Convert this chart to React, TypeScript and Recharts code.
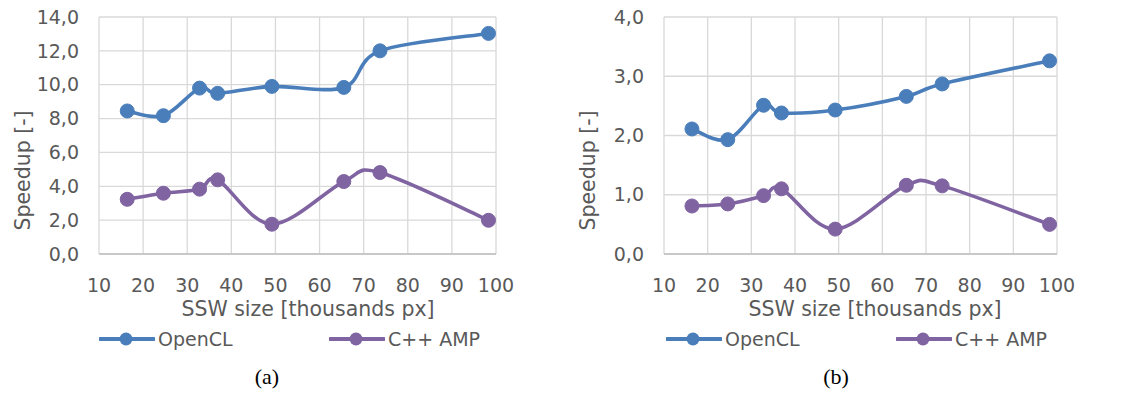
import React from 'react';
import { LineChart, Line, XAxis, YAxis, CartesianGrid, Legend } from 'recharts';

const sswSize = [16.4, 24.6, 32.8, 36.9, 49.2, 65.5, 73.7, 98.3];
const openclA = [8.45, 8.17, 9.8, 9.49, 9.9, 9.84, 12.0, 13.03];
const cppampA = [3.23, 3.59, 3.83, 4.38, 1.76, 4.28, 4.81, 1.99];
const openclB = [2.11, 1.93, 2.51, 2.38, 2.43, 2.66, 2.87, 3.26];
const cppampB = [0.81, 0.845, 0.985, 1.1, 0.42, 1.16, 1.15, 0.5];
const xTicks = [10, 20, 30, 40, 50, 60, 70, 80, 90, 100];
const yTicksA = [0, 2, 4, 6, 8, 10, 12, 14];
const yTicksB = [0, 1, 2, 3, 4];
const seriesNames = ['OpenCL', 'C++ AMP'];
const captions = ['(a)', '(b)'];

const BLUE = '#4a7ebb';
const PURPLE = '#8064a2';
const TEXT = '#595959';
const GRID = '#d9d9d9';
const FONT = '"DejaVu Sans", sans-serif';
const LEGEND_H = 26;

// Excel-like smoothing (Catmull-Rom / cardinal with tension 0)
function excelCurve(context: any) {
  let pts: [number, number][] = [];
  return {
    areaStart() {},
    areaEnd() {},
    lineStart() {
      pts = [];
    },
    lineEnd() {
      const n = pts.length;
      if (n === 0) return;
      context.moveTo(pts[0][0], pts[0][1]);
      for (let i = 0; i < n - 1; i++) {
        const p0 = pts[Math.max(0, i - 1)];
        const p1 = pts[i];
        const p2 = pts[i + 1];
        const p3 = pts[Math.min(n - 1, i + 2)];
        const c1x = p1[0] + (p2[0] - p0[0]) / 6;
        const c1y = p1[1] + (p2[1] - p0[1]) / 6;
        const c2x = p2[0] - (p3[0] - p1[0]) / 6;
        const c2y = p2[1] - (p3[1] - p1[1]) / 6;
        context.bezierCurveTo(c1x, c1y, c2x, c2y, p2[0], p2[1]);
      }
    },
    point(x: number, y: number) {
      pts.push([+x, +y]);
    },
  };
}

const fmt = (v: number) => v.toFixed(1).replace('.', ',');

type PanelProps = {
  left: number;
  width: number;
  yAxisWidth: number;
  marginRight: number;
  opencl: number[];
  cppamp: number[];
  yTicks: number[];
  yMax: number;
  xTitleCenter: number;
  legendX: number[];
  caption: string;
  captionX: number;
};

function Panel(p: PanelProps) {
  const data = sswSize.map((x, i) => ({ x, opencl: p.opencl[i], cppamp: p.cppamp[i] }));
  const colors = [BLUE, PURPLE];
  return (
    <div style={{ position: 'absolute', left: p.left, top: 0, width: p.width, height: 397 }}>
      <LineChart
        width={p.width}
        height={360}
        data={data}
        margin={{ top: 17, right: p.marginRight, bottom: 60 - LEGEND_H, left: 0 }}
      >
        <CartesianGrid stroke={GRID} strokeWidth={1.3} />
        <XAxis
          type="number"
          dataKey="x"
          domain={[10, 100]}
          ticks={xTicks}
          interval={0}
          height={46}
          tickSize={0}
          tickMargin={25}
          axisLine={{ stroke: '#bfbfbf', strokeWidth: 1.3 }}
          tickLine={false}
          tick={{ fill: TEXT, fontSize: 19, fontFamily: FONT }}
          label={{
            content: (lp: any) => {
              const vb = lp.viewBox;
              return (
                <text
                  x={p.xTitleCenter}
                  y={vb.y + 62}
                  textAnchor="middle"
                  fill={TEXT}
                  fontSize={20.5}
                  fontFamily={FONT}
                >
                  SSW size [thousands px]
                </text>
              );
            },
          }}
        />
        <YAxis
          type="number"
          domain={[0, p.yMax]}
          ticks={p.yTicks}
          interval={0}
          width={p.yAxisWidth}
          tickSize={0}
          tickMargin={20}
          axisLine={false}
          tickLine={false}
          tickFormatter={fmt}
          tick={{ fill: TEXT, fontSize: 19, fontFamily: FONT }}
          label={{
            content: (lp: any) => {
              const vb = lp.viewBox;
              const cx = p.yAxisWidth - 76;
              const cy = vb.y + vb.height / 2 + 35;
              return (
                <text
                  x={cx}
                  y={cy}
                  transform={`rotate(-90 ${cx} ${cy})`}
                  textAnchor="middle"
                  dominantBaseline="central"
                  fill={TEXT}
                  fontSize={20.5}
                  fontFamily={FONT}
                >
                  Speedup [-]
                </text>
              );
            },
          }}
        />
        <Legend
          verticalAlign="bottom"
          wrapperStyle={{ position: 'absolute', left: 0, top: 326, width: p.width, height: LEGEND_H }}
          content={(lp: any) => {
            const items = seriesNames.map((name) => (lp.payload || []).find((it: any) => it.value === name)).filter(Boolean);
            return (
              <div style={{ position: 'relative', width: p.width, height: LEGEND_H }}>
                {items.map((item: any, i: number) => (
                  <div
                    key={item.value}
                    style={{
                      position: 'absolute',
                      left: p.legendX[i],
                      top: 0,
                      height: LEGEND_H,
                      display: 'flex',
                      alignItems: 'center',
                      fontFamily: FONT,
                      fontSize: 19,
                      color: TEXT,
                      whiteSpace: 'nowrap',
                    }}
                  >
                    <svg width={56} height={26} style={{ marginRight: 3 }}>
                      <line x1={1} y1={13} x2={55} y2={13} stroke={item.color} strokeWidth={3.8} strokeLinecap="round" />
                      <circle cx={27} cy={13} r={6.5} fill={item.color} />
                    </svg>
                    <span>{item.value}</span>
                  </div>
                ))}
              </div>
            );
          }}
        />
        <Line
          name={seriesNames[0]}
          dataKey="opencl"
          type={excelCurve as any}
          stroke={colors[0]}
          strokeWidth={3.6}
          dot={{ r: 7, fill: colors[0], stroke: colors[0], strokeWidth: 1 }}
          activeDot={false}
          isAnimationActive={false}
        />
        <Line
          name={seriesNames[1]}
          dataKey="cppamp"
          type={excelCurve as any}
          stroke={colors[1]}
          strokeWidth={3.6}
          dot={{ r: 7, fill: colors[1], stroke: colors[1], strokeWidth: 1 }}
          activeDot={false}
          isAnimationActive={false}
        />
      </LineChart>
      <div
        style={{
          position: 'absolute',
          left: p.captionX - 40,
          width: 80,
          top: 364,
          textAlign: 'center',
          fontFamily: '"Liberation Serif", "Times New Roman", serif',
          fontSize: 22,
          color: '#000',
        }}
      >
        {p.caption}
      </div>
    </div>
  );
}

export default function App() {
  return (
    <div style={{ position: 'absolute', left: 0, top: 0, width: 1127, height: 397, background: '#fff', overflow: 'hidden' }}>
      <Panel
        left={0}
        width={560}
        yAxisWidth={99}
        marginRight={64}
        opencl={openclA}
        cppamp={cppampA}
        yTicks={yTicksA}
        yMax={14}
        xTitleCenter={308}
        legendX={[99, 329]}
        caption={captions[0]}
        captionX={267}
      />
      <Panel
        left={560}
        width={567}
        yAxisWidth={104}
        marginRight={70}
        opencl={openclB}
        cppamp={cppampB}
        yTicks={yTicksB}
        yMax={4}
        xTitleCenter={315}
        legendX={[106, 336]}
        caption={captions[1]}
        captionX={276}
      />
    </div>
  );
}
